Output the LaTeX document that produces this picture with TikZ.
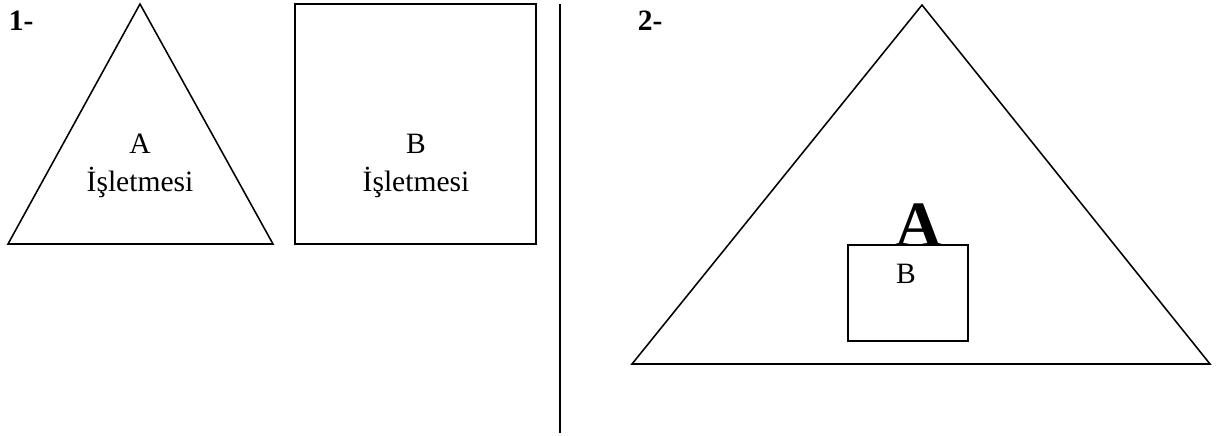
\documentclass[tikz,border=0pt]{standalone}
\usepackage{fontspec}
\setmainfont{Liberation Serif}
\usetikzlibrary{positioning}
\tikzset{
  lbl/.style={font=\fontsize{21}{25}\selectfont,inner sep=0pt,anchor=base},
  num/.style={font=\fontsize{21}{25}\selectfont\bfseries,inner sep=0pt,anchor=base west},
  big/.style={font=\fontsize{46}{50}\selectfont\bfseries,inner sep=0pt,anchor=base}
}
\begin{document}
\begin{tikzpicture}[x=0.025cm,y=-0.025cm,line width=1.1pt]
\useasboundingbox (0,0) rectangle (1223,435);
% case 1: two separate firms
\coordinate (T1) at (140,4); \coordinate (L1) at (8,244); \coordinate (R1) at (273,244);
\draw (T1)--(L1)--(R1)--cycle;
\draw (295,4) rectangle (536,244);
\node[num] (n1) at (8,30) {1-};
\node[lbl] (fa) at (140,153) {A}; \node[lbl] (fai) at (140,191) {İşletmesi};
\node[lbl] (fb) at (416,153) {B}; \node[lbl] (fbi) at (416,191) {İşletmesi};
% separator
\coordinate (S1) at (560,4); \coordinate (S2) at (560,433);
\draw[line width=1.3pt] (S1)--(S2);
% case 2: B inside A
\coordinate (T2) at (922,5); \coordinate (L2) at (632,364); \coordinate (R2) at (1210,364);
\draw (T2)--(L2)--(R2)--cycle;
\node[num] (n2) at (637,30) {2-};
\node[big] (ga) at (919,246) {A};
\draw (848,245) rectangle (968,341);
\node[lbl] (gb) at (906,283) {B};
\end{tikzpicture}
\end{document}
